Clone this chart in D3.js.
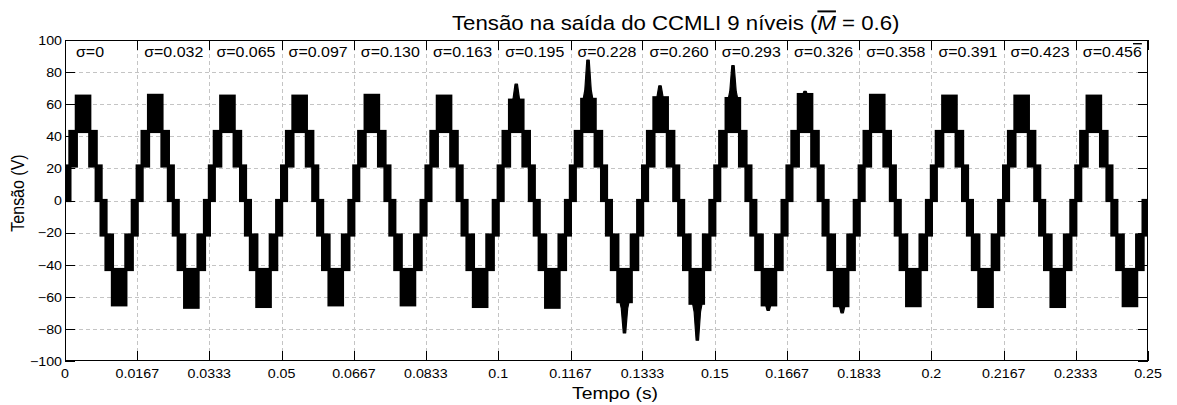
<!DOCTYPE html>
<html>
<head>
<meta charset="utf-8">
<script src="https://cdn.jsdelivr.net/npm/d3@7"></script>
<style>
  html, body { margin: 0; padding: 0; background: #fff; }
  svg { display: block; }
  text { font-family: "Liberation Sans", Arial, Helvetica, sans-serif; fill: #000; }
</style>
</head>
<body>
<svg id="chart" width="1177" height="405"></svg>
<script>
// ---------------- data ----------------
const xTicks = [0, 0.0167, 0.0333, 0.05, 0.0667, 0.0833, 0.1, 0.1167, 0.1333, 0.15, 0.1667, 0.1833, 0.2, 0.2167, 0.2333, 0.25];
const xTickLabels = ["0", "0.0167", "0.0333", "0.05", "0.0667", "0.0833", "0.1", "0.1167", "0.1333", "0.15", "0.1667", "0.1833", "0.2", "0.2167", "0.2333", "0.25"];
const yTicks = [-100, -80, -60, -40, -20, 0, 20, 40, 60, 80, 100];
const sigmaLabels = ["0", "0.032", "0.065", "0.097", "0.130", "0.163", "0.195", "0.228", "0.260", "0.293", "0.326", "0.358", "0.391", "0.423", "0.456"];

// output period (one cycle per sigma step) and voltage levels of the 9-level output
const period = 0.25 / 15;
const levels = [0, 21.5, 43];

// switching bands of one cycle: phase start / end (fraction of period), lower and upper level (V)
const bandStart = [0.000, 0.068, 0.157, 0.343, 0.432, 0.500, 0.568, 0.657, 0.843, 0.932];
const bandEnd   = [0.068, 0.157, 0.343, 0.432, 0.500, 0.568, 0.657, 0.843, 0.932, 1.000];
const bandLow   = [0, 21.5, 43, 21.5, 0, -21.5, -43, null, -43, -21.5];
const bandHigh  = [21.5, 43, null, 43, 21.5, 0, -21.5, -43, -21.5, 0];

// per-cycle top of the positive peak band and bottom of the negative peak band (V)
const cycleTop    = [65, 65.5, 65, 65, 65.5, 65, 62.5, 63, 64, 63.5, 66, 65.5, 65, 65, 65];
const cycleBottom = [-65, -66.5, -66, -65, -65, -66, -66.5, -63, -64, -65, -65.5, -65.5, -66, -66, -65.5];

// transient spikes: cycle index, phase in cycle, peak value (V)
const spikeCycle = [6, 7, 7, 8, 8, 9, 9, 10, 10];
const spikePhase = [0.250, 0.244, 0.749, 0.241, 0.758, 0.252, 0.740, 0.250, 0.764];
const spikeValue = [72.5, 87.5, -82.5, 71.5, -87, 84, -68.5, 68, -70];

// ---------------- layout ----------------
const svg = d3.select("#chart");
const L = 65, R = 1148, T = 40, B = 361;
const SX = 1.14; // horizontal text stretch of the original figure
const x = d3.scaleLinear().domain([0, 0.25]).range([L, R]);
const y = d3.scaleLinear().domain([-100, 100]).range([B, T]);

svg.append("defs").append("clipPath").attr("id", "plotclip")
  .append("rect").attr("x", L).attr("y", T).attr("width", R - L).attr("height", B - T);

// grid
const grid = svg.append("g").attr("stroke", "#c4c4c4").attr("stroke-width", 1).attr("stroke-dasharray", "4,3");
grid.selectAll("line.vx").data(xTicks.slice(1, -1)).join("line")
  .attr("x1", d => Math.round(x(d)) + 0.5).attr("x2", d => Math.round(x(d)) + 0.5)
  .attr("y1", T).attr("y2", B);
grid.selectAll("line.hy").data(yTicks.slice(1, -1)).join("line")
  .attr("y1", d => Math.round(y(d)) + 0.5).attr("y2", d => Math.round(y(d)) + 0.5)
  .attr("x1", L).attr("x2", R);

// waveform bands
const wave = svg.append("g").attr("clip-path", "url(#plotclip)");
const bands = [];
sigmaLabels.forEach((s, k) => {
  bandStart.forEach((p, b) => {
    const lo = bandLow[b] === null ? cycleBottom[k] : bandLow[b];
    const hi = bandHigh[b] === null ? cycleTop[k] : bandHigh[b];
    bands.push({ t0: (k + p) * period, t1: (k + bandEnd[b]) * period, lo, hi });
  });
});
wave.selectAll("rect.band").data(bands).join("rect")
  .attr("x", d => x(d.t0)).attr("width", d => x(d.t1) - x(d.t0))
  .attr("y", d => y(d.hi)).attr("height", d => y(d.lo) - y(d.hi))
  .attr("fill", "#000").attr("stroke", "#000").attr("stroke-width", 3.2);

// spikes
const spikes = spikeCycle.map((c, i) => {
  const base = spikeValue[i] > 0 ? cycleTop[c] - 4 : cycleBottom[c] + 4;
  return { t: (c + spikePhase[i]) * period, base, peak: spikeValue[i] };
});
wave.selectAll("path.spike").data(spikes).join("path")
  .attr("d", d => {
    const cx = x(d.t), yb = y(d.base), yp = y(d.peak);
    const ym = yb + (yp - yb) * 0.35;
    return d3.line()([[cx - 6, yb], [cx - 3.2, ym], [cx - 1.2, yp], [cx + 1.2, yp], [cx + 3.2, ym], [cx + 6, yb]]) + "Z";
  })
  .attr("fill", "#000").attr("stroke", "#000").attr("stroke-width", 1.2).attr("stroke-linejoin", "round");

// frame and ticks (inside, on all four sides)
const axes = svg.append("g").attr("stroke", "#000").attr("stroke-width", 1).attr("fill", "none");
axes.append("rect").attr("x", L + 0.5).attr("y", T + 0.5).attr("width", R - L - 1).attr("height", B - T - 1);
const tl = 10;
axes.selectAll("line.xb").data(xTicks).join("line")
  .attr("x1", d => Math.round(x(d)) + 0.5).attr("x2", d => Math.round(x(d)) + 0.5)
  .attr("y1", B).attr("y2", B - tl);
axes.selectAll("line.xt").data(xTicks).join("line")
  .attr("x1", d => Math.round(x(d)) + 0.5).attr("x2", d => Math.round(x(d)) + 0.5)
  .attr("y1", T).attr("y2", T + tl);
axes.selectAll("line.yl").data(yTicks).join("line")
  .attr("y1", d => Math.round(y(d)) + 0.5).attr("y2", d => Math.round(y(d)) + 0.5)
  .attr("x1", L).attr("x2", L + tl);
axes.selectAll("line.yr").data(yTicks).join("line")
  .attr("y1", d => Math.round(y(d)) + 0.5).attr("y2", d => Math.round(y(d)) + 0.5)
  .attr("x1", R).attr("x2", R - tl);

// helper: stretched text
function stext(px, py, anchor, size, str) {
  const g = svg.append("g").attr("transform", `translate(${px},${py}) scale(${SX},1)`);
  return g.append("text").attr("text-anchor", anchor).attr("font-size", size).text(str);
}

// tick labels
xTicks.forEach((d, i) => stext(x(d), B + 16.5, "middle", 12.5, xTickLabels[i]));
yTicks.forEach(d => stext(L - 3, y(d) + 4.8, "end", 12.5, d < 0 ? "\u2212" + Math.abs(d) : String(d)));

// sigma labels
sigmaLabels.forEach((s, k) => {
  const px = x(k * period) + (k === 0 ? 11 : 7);
  if (k === sigmaLabels.length - 1) {
    const t = stext(px, 57, "start", 14, "σ=" + s.slice(0, -1));
    t.append("tspan").attr("text-decoration", "overline").text(s.slice(-1));
  } else {
    stext(px, 57, "start", 14, "σ=" + s);
  }
});

// title
const title = stext(452, 30, "start", 19.5, "Tensão na saída do CCMLI 9 níveis (");
title.append("tspan").attr("font-style", "italic").attr("text-decoration", "overline").text("M");
title.append("tspan").text(" = 0.6)");

// axis labels
stext(615, 399, "middle", 17, "Tempo (s)");
svg.append("g").attr("transform", `translate(24,193) rotate(-90) scale(1,${SX})`)
  .append("text").attr("text-anchor", "middle").attr("font-size", 16).text("Tensão (V)");
</script>
</body>
</html>
